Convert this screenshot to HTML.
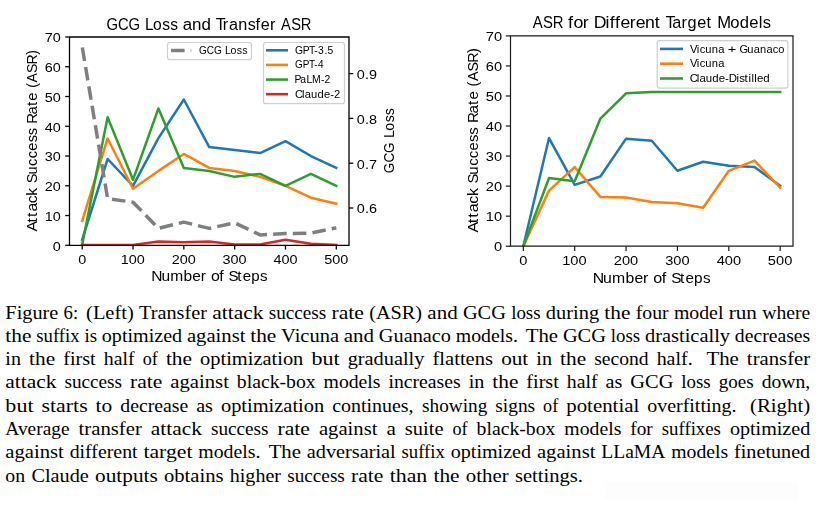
<!DOCTYPE html>
<html><head><meta charset="utf-8"><title>Figure 6</title>
<style>html,body{margin:0;padding:0;background:#fff;width:819px;height:509px;overflow:hidden;position:relative}svg{display:block}.cap{position:absolute;left:0;top:0}.charts{position:absolute;left:0;top:0;width:819px;height:295px;will-change:transform}</style>
</head><body>
<svg class="cap" width="819" height="509" viewBox="0 0 819 509">
<rect width="819" height="509" fill="#fff"/>
<rect x="605" y="482" width="193" height="19" fill="#fdfdfd"/>
<g font-family="Liberation Serif, serif" font-size="18.2" fill="#000" style="font-variant-ligatures:none">
<text x="5.37" y="318.70" textLength="52.99" lengthAdjust="spacingAndGlyphs">Figure</text>
<text x="63.62" y="318.70" textLength="14.60" lengthAdjust="spacingAndGlyphs">6:</text>
<text x="86.07" y="318.70" textLength="47.71" lengthAdjust="spacingAndGlyphs">(Left)</text>
<text x="139.04" y="318.70" textLength="68.00" lengthAdjust="spacingAndGlyphs">Transfer</text>
<text x="212.31" y="318.70" textLength="51.09" lengthAdjust="spacingAndGlyphs">attack</text>
<text x="268.66" y="318.70" textLength="57.62" lengthAdjust="spacingAndGlyphs">success</text>
<text x="331.55" y="318.70" textLength="32.38" lengthAdjust="spacingAndGlyphs">rate</text>
<text x="369.19" y="318.70" textLength="52.93" lengthAdjust="spacingAndGlyphs">(ASR)</text>
<text x="427.38" y="318.70" textLength="30.26" lengthAdjust="spacingAndGlyphs">and</text>
<text x="462.90" y="318.70" textLength="43.02" lengthAdjust="spacingAndGlyphs">GCG</text>
<text x="511.19" y="318.70" textLength="29.39" lengthAdjust="spacingAndGlyphs">loss</text>
<text x="545.85" y="318.70" textLength="53.27" lengthAdjust="spacingAndGlyphs">during</text>
<text x="604.38" y="318.70" textLength="26.07" lengthAdjust="spacingAndGlyphs">the</text>
<text x="635.71" y="318.70" textLength="32.92" lengthAdjust="spacingAndGlyphs">four</text>
<text x="673.90" y="318.70" textLength="49.53" lengthAdjust="spacingAndGlyphs">model</text>
<text x="728.69" y="318.70" textLength="28.23" lengthAdjust="spacingAndGlyphs">run</text>
<text x="762.19" y="318.70" textLength="48.01" lengthAdjust="spacingAndGlyphs">where</text>
<text x="5.37" y="341.96" textLength="26.07" lengthAdjust="spacingAndGlyphs">the</text>
<text x="36.25" y="341.96" textLength="43.38" lengthAdjust="spacingAndGlyphs">suffix</text>
<text x="84.43" y="341.96" textLength="12.61" lengthAdjust="spacingAndGlyphs">is</text>
<text x="101.84" y="341.96" textLength="80.30" lengthAdjust="spacingAndGlyphs">optimized</text>
<text x="186.95" y="341.96" textLength="58.51" lengthAdjust="spacingAndGlyphs">against</text>
<text x="250.26" y="341.96" textLength="26.07" lengthAdjust="spacingAndGlyphs">the</text>
<text x="281.13" y="341.96" textLength="57.89" lengthAdjust="spacingAndGlyphs">Vicuna</text>
<text x="343.82" y="341.96" textLength="30.26" lengthAdjust="spacingAndGlyphs">and</text>
<text x="378.88" y="341.96" textLength="72.10" lengthAdjust="spacingAndGlyphs">Guanaco</text>
<text x="455.78" y="341.96" textLength="62.15" lengthAdjust="spacingAndGlyphs">models.</text>
<text x="525.78" y="341.96" textLength="32.32" lengthAdjust="spacingAndGlyphs">The</text>
<text x="562.91" y="341.96" textLength="43.02" lengthAdjust="spacingAndGlyphs">GCG</text>
<text x="610.73" y="341.96" textLength="29.39" lengthAdjust="spacingAndGlyphs">loss</text>
<text x="644.93" y="341.96" textLength="85.16" lengthAdjust="spacingAndGlyphs">drastically</text>
<text x="734.89" y="341.96" textLength="75.31" lengthAdjust="spacingAndGlyphs">decreases</text>
<text x="5.37" y="365.22" textLength="15.65" lengthAdjust="spacingAndGlyphs">in</text>
<text x="29.11" y="365.22" textLength="26.07" lengthAdjust="spacingAndGlyphs">the</text>
<text x="63.26" y="365.22" textLength="32.49" lengthAdjust="spacingAndGlyphs">first</text>
<text x="103.84" y="365.22" textLength="30.78" lengthAdjust="spacingAndGlyphs">half</text>
<text x="142.70" y="365.22" textLength="15.13" lengthAdjust="spacingAndGlyphs">of</text>
<text x="165.91" y="365.22" textLength="26.07" lengthAdjust="spacingAndGlyphs">the</text>
<text x="200.07" y="365.22" textLength="103.25" lengthAdjust="spacingAndGlyphs">optimization</text>
<text x="311.40" y="365.22" textLength="28.17" lengthAdjust="spacingAndGlyphs">but</text>
<text x="347.66" y="365.22" textLength="76.73" lengthAdjust="spacingAndGlyphs">gradually</text>
<text x="432.48" y="365.22" textLength="60.59" lengthAdjust="spacingAndGlyphs">flattens</text>
<text x="501.15" y="365.22" textLength="27.12" lengthAdjust="spacingAndGlyphs">out</text>
<text x="536.35" y="365.22" textLength="15.65" lengthAdjust="spacingAndGlyphs">in</text>
<text x="560.09" y="365.22" textLength="26.07" lengthAdjust="spacingAndGlyphs">the</text>
<text x="594.25" y="365.22" textLength="54.32" lengthAdjust="spacingAndGlyphs">second</text>
<text x="656.65" y="365.22" textLength="36.00" lengthAdjust="spacingAndGlyphs">half.</text>
<text x="706.48" y="365.22" textLength="32.32" lengthAdjust="spacingAndGlyphs">The</text>
<text x="746.89" y="365.22" textLength="63.31" lengthAdjust="spacingAndGlyphs">transfer</text>
<text x="5.37" y="388.48" textLength="51.09" lengthAdjust="spacingAndGlyphs">attack</text>
<text x="64.44" y="388.48" textLength="57.62" lengthAdjust="spacingAndGlyphs">success</text>
<text x="130.04" y="388.48" textLength="32.38" lengthAdjust="spacingAndGlyphs">rate</text>
<text x="170.39" y="388.48" textLength="58.51" lengthAdjust="spacingAndGlyphs">against</text>
<text x="236.88" y="388.48" textLength="78.74" lengthAdjust="spacingAndGlyphs">black-box</text>
<text x="323.59" y="388.48" textLength="56.93" lengthAdjust="spacingAndGlyphs">models</text>
<text x="388.50" y="388.48" textLength="72.19" lengthAdjust="spacingAndGlyphs">increases</text>
<text x="468.67" y="388.48" textLength="15.65" lengthAdjust="spacingAndGlyphs">in</text>
<text x="492.30" y="388.48" textLength="26.07" lengthAdjust="spacingAndGlyphs">the</text>
<text x="526.34" y="388.48" textLength="32.49" lengthAdjust="spacingAndGlyphs">first</text>
<text x="566.81" y="388.48" textLength="30.78" lengthAdjust="spacingAndGlyphs">half</text>
<text x="605.57" y="388.48" textLength="16.78" lengthAdjust="spacingAndGlyphs">as</text>
<text x="630.33" y="388.48" textLength="43.02" lengthAdjust="spacingAndGlyphs">GCG</text>
<text x="681.33" y="388.48" textLength="29.39" lengthAdjust="spacingAndGlyphs">loss</text>
<text x="718.70" y="388.48" textLength="35.02" lengthAdjust="spacingAndGlyphs">goes</text>
<text x="761.70" y="388.48" textLength="48.50" lengthAdjust="spacingAndGlyphs">down,</text>
<text x="5.37" y="411.74" textLength="28.17" lengthAdjust="spacingAndGlyphs">but</text>
<text x="41.52" y="411.74" textLength="46.14" lengthAdjust="spacingAndGlyphs">starts</text>
<text x="95.64" y="411.74" textLength="16.69" lengthAdjust="spacingAndGlyphs">to</text>
<text x="120.30" y="411.74" textLength="67.91" lengthAdjust="spacingAndGlyphs">decrease</text>
<text x="196.19" y="411.74" textLength="16.78" lengthAdjust="spacingAndGlyphs">as</text>
<text x="220.95" y="411.74" textLength="103.25" lengthAdjust="spacingAndGlyphs">optimization</text>
<text x="332.19" y="411.74" textLength="81.44" lengthAdjust="spacingAndGlyphs">continues,</text>
<text x="422.04" y="411.74" textLength="65.28" lengthAdjust="spacingAndGlyphs">showing</text>
<text x="495.30" y="411.74" textLength="39.83" lengthAdjust="spacingAndGlyphs">signs</text>
<text x="543.11" y="411.74" textLength="15.13" lengthAdjust="spacingAndGlyphs">of</text>
<text x="566.22" y="411.74" textLength="73.02" lengthAdjust="spacingAndGlyphs">potential</text>
<text x="647.21" y="411.74" textLength="89.23" lengthAdjust="spacingAndGlyphs">overfitting.</text>
<text x="749.97" y="411.74" textLength="60.23" lengthAdjust="spacingAndGlyphs">(Right)</text>
<text x="5.37" y="435.00" textLength="64.17" lengthAdjust="spacingAndGlyphs">Average</text>
<text x="78.54" y="435.00" textLength="63.31" lengthAdjust="spacingAndGlyphs">transfer</text>
<text x="150.85" y="435.00" textLength="51.09" lengthAdjust="spacingAndGlyphs">attack</text>
<text x="210.94" y="435.00" textLength="57.62" lengthAdjust="spacingAndGlyphs">success</text>
<text x="277.57" y="435.00" textLength="32.38" lengthAdjust="spacingAndGlyphs">rate</text>
<text x="318.94" y="435.00" textLength="58.51" lengthAdjust="spacingAndGlyphs">against</text>
<text x="386.45" y="435.00" textLength="9.38" lengthAdjust="spacingAndGlyphs">a</text>
<text x="404.83" y="435.00" textLength="38.68" lengthAdjust="spacingAndGlyphs">suite</text>
<text x="452.52" y="435.00" textLength="15.13" lengthAdjust="spacingAndGlyphs">of</text>
<text x="476.64" y="435.00" textLength="78.74" lengthAdjust="spacingAndGlyphs">black-box</text>
<text x="564.38" y="435.00" textLength="56.93" lengthAdjust="spacingAndGlyphs">models</text>
<text x="630.31" y="435.00" textLength="22.49" lengthAdjust="spacingAndGlyphs">for</text>
<text x="661.80" y="435.00" textLength="59.11" lengthAdjust="spacingAndGlyphs">suffixes</text>
<text x="729.90" y="435.00" textLength="80.30" lengthAdjust="spacingAndGlyphs">optimized</text>
<text x="5.37" y="458.26" textLength="58.51" lengthAdjust="spacingAndGlyphs">against</text>
<text x="69.73" y="458.26" textLength="67.83" lengthAdjust="spacingAndGlyphs">different</text>
<text x="143.41" y="458.26" textLength="49.06" lengthAdjust="spacingAndGlyphs">target</text>
<text x="198.32" y="458.26" textLength="62.15" lengthAdjust="spacingAndGlyphs">models.</text>
<text x="268.67" y="458.26" textLength="32.32" lengthAdjust="spacingAndGlyphs">The</text>
<text x="306.85" y="458.26" textLength="88.86" lengthAdjust="spacingAndGlyphs">adversarial</text>
<text x="401.55" y="458.26" textLength="43.38" lengthAdjust="spacingAndGlyphs">suffix</text>
<text x="450.78" y="458.26" textLength="80.30" lengthAdjust="spacingAndGlyphs">optimized</text>
<text x="536.93" y="458.26" textLength="58.51" lengthAdjust="spacingAndGlyphs">against</text>
<text x="601.28" y="458.26" textLength="64.14" lengthAdjust="spacingAndGlyphs">LLaMA</text>
<text x="671.27" y="458.26" textLength="56.93" lengthAdjust="spacingAndGlyphs">models</text>
<text x="734.05" y="458.26" textLength="76.15" lengthAdjust="spacingAndGlyphs">finetuned</text>
<text x="5.37" y="481.52" textLength="19.82" lengthAdjust="spacingAndGlyphs">on</text>
<text x="31.44" y="481.52" textLength="57.36" lengthAdjust="spacingAndGlyphs">Claude</text>
<text x="95.05" y="481.52" textLength="62.69" lengthAdjust="spacingAndGlyphs">outputs</text>
<text x="164.00" y="481.52" textLength="59.56" lengthAdjust="spacingAndGlyphs">obtains</text>
<text x="229.80" y="481.52" textLength="51.17" lengthAdjust="spacingAndGlyphs">higher</text>
<text x="287.22" y="481.52" textLength="57.62" lengthAdjust="spacingAndGlyphs">success</text>
<text x="351.09" y="481.52" textLength="32.38" lengthAdjust="spacingAndGlyphs">rate</text>
<text x="389.72" y="481.52" textLength="37.56" lengthAdjust="spacingAndGlyphs">than</text>
<text x="433.53" y="481.52" textLength="26.07" lengthAdjust="spacingAndGlyphs">the</text>
<text x="465.85" y="481.52" textLength="42.81" lengthAdjust="spacingAndGlyphs">other</text>
<text x="514.92" y="481.52" textLength="67.98" lengthAdjust="spacingAndGlyphs">settings.</text>
</g>
</svg>
<div class="charts"><svg width="819" height="295" viewBox="0 0 819 295">
<g font-family="Liberation Sans, sans-serif" fill="#000">
<defs><clipPath id="cl"><rect x="69.5" y="37.0" width="279.5" height="208.3"/></clipPath><clipPath id="cr"><rect x="510.5" y="35.9" width="282.5" height="210.29999999999998"/></clipPath></defs>
<g clip-path="url(#cl)">
<polyline points="82.20,239.65 107.61,159.00 133.02,185.79 158.43,138.17 183.84,99.49 209.25,147.10 234.66,150.08 260.07,153.05 285.48,141.15 310.89,156.03 336.30,167.93" fill="none" stroke="#1f77b4" stroke-width="2.5" stroke-linejoin="round" stroke-linecap="square" />
<polyline points="82.20,220.90 107.61,138.47 133.02,188.76 158.43,170.91 183.84,153.95 209.25,167.93 234.66,170.91 260.07,176.86 285.48,185.79 310.89,197.69 336.30,203.64" fill="none" stroke="#ff7f0e" stroke-width="2.5" stroke-linejoin="round" stroke-linecap="square" />
<polyline points="82.20,244.41 107.61,117.34 133.02,179.83 158.43,108.42 183.84,167.93 209.25,170.91 234.66,176.86 260.07,173.88 285.48,185.79 310.89,173.88 336.30,185.79" fill="none" stroke="#2ca02c" stroke-width="2.5" stroke-linejoin="round" stroke-linecap="square" />
<polyline points="82.20,245.00 107.61,245.00 133.02,245.00 158.43,241.43 183.84,242.32 209.25,241.43 234.66,244.41 260.07,244.41 285.48,239.65 310.89,243.81 336.30,245.00" fill="none" stroke="#d62728" stroke-width="2.5" stroke-linejoin="round" stroke-linecap="square" />
</g>
<path d="M69.50,37.00H349.00M69.50,245.30H349.00M69.50,37.00V245.30M349.00,37.00V245.30" fill="none" stroke="#000" stroke-width="1.3" stroke-linecap="square"/>
<g clip-path="url(#cl)">
<polyline points="82.20,46.72 107.61,198.59 133.02,202.18 158.43,228.38 183.84,222.11 209.25,228.38 234.66,222.78 260.07,234.88 285.48,233.54 310.89,233.09 336.30,227.71" fill="none" stroke="#7f7f7f" stroke-width="3.5" stroke-linejoin="round" stroke-linecap="butt" stroke-dasharray="13.6 6.1" stroke-dashoffset="-0.8"/>
</g>
<line x1="65.2" y1="245.30" x2="69.5" y2="245.30" stroke="#000" stroke-width="1.3"/>
<text transform="translate(52.82,250.60) scale(1.0895,1)" font-size="13.23" x="0.00" y="0" >0</text>
<line x1="65.2" y1="215.54" x2="69.5" y2="215.54" stroke="#000" stroke-width="1.3"/>
<text transform="translate(44.80,220.84) scale(1.0895,1)" font-size="13.23" x="0.00 7.36" y="0" >10</text>
<line x1="65.2" y1="185.79" x2="69.5" y2="185.79" stroke="#000" stroke-width="1.3"/>
<text transform="translate(44.80,191.09) scale(1.0895,1)" font-size="13.23" x="0.00 7.36" y="0" >20</text>
<line x1="65.2" y1="156.03" x2="69.5" y2="156.03" stroke="#000" stroke-width="1.3"/>
<text transform="translate(44.80,161.33) scale(1.0895,1)" font-size="13.23" x="0.00 7.36" y="0" >30</text>
<line x1="65.2" y1="126.27" x2="69.5" y2="126.27" stroke="#000" stroke-width="1.3"/>
<text transform="translate(44.80,131.57) scale(1.0895,1)" font-size="13.23" x="0.00 7.36" y="0" >40</text>
<line x1="65.2" y1="96.51" x2="69.5" y2="96.51" stroke="#000" stroke-width="1.3"/>
<text transform="translate(44.80,101.81) scale(1.0895,1)" font-size="13.23" x="0.00 7.36" y="0" >50</text>
<line x1="65.2" y1="66.76" x2="69.5" y2="66.76" stroke="#000" stroke-width="1.3"/>
<text transform="translate(44.80,72.06) scale(1.0895,1)" font-size="13.23" x="0.00 7.36" y="0" >60</text>
<line x1="65.2" y1="37.00" x2="69.5" y2="37.00" stroke="#000" stroke-width="1.3"/>
<text transform="translate(44.80,42.30) scale(1.0895,1)" font-size="13.23" x="0.00 7.36" y="0" >70</text>
<line x1="82.20" y1="245.3" x2="82.20" y2="249.60000000000002" stroke="#000" stroke-width="1.3"/>
<text transform="translate(78.20,263.70) scale(1.0895,1)" font-size="13.23" x="0.00" y="0" >0</text>
<line x1="133.02" y1="245.3" x2="133.02" y2="249.60000000000002" stroke="#000" stroke-width="1.3"/>
<text transform="translate(120.72,263.70) scale(1.0895,1)" font-size="13.23" x="0.00 7.36 14.72" y="0" >100</text>
<line x1="183.84" y1="245.3" x2="183.84" y2="249.60000000000002" stroke="#000" stroke-width="1.3"/>
<text transform="translate(171.77,263.70) scale(1.0895,1)" font-size="13.23" x="0.00 7.36 14.72" y="0" >200</text>
<line x1="234.66" y1="245.3" x2="234.66" y2="249.60000000000002" stroke="#000" stroke-width="1.3"/>
<text transform="translate(222.57,263.70) scale(1.0895,1)" font-size="13.23" x="0.00 7.36 14.72" y="0" >300</text>
<line x1="285.48" y1="245.3" x2="285.48" y2="249.60000000000002" stroke="#000" stroke-width="1.3"/>
<text transform="translate(273.56,263.70) scale(1.0895,1)" font-size="13.23" x="0.00 7.36 14.72" y="0" >400</text>
<line x1="336.30" y1="245.3" x2="336.30" y2="249.60000000000002" stroke="#000" stroke-width="1.3"/>
<text transform="translate(324.20,263.70) scale(1.0895,1)" font-size="13.23" x="0.00 7.36 14.72" y="0" >500</text>
<line x1="349.0" y1="208.00" x2="353.3" y2="208.00" stroke="#000" stroke-width="1.3"/>
<text transform="translate(356.87,213.30) scale(1.0895,1)" font-size="13.23" x="0.00 7.36 11.03" y="0" >0.6</text>
<line x1="349.0" y1="163.20" x2="353.3" y2="163.20" stroke="#000" stroke-width="1.3"/>
<text transform="translate(356.87,168.50) scale(1.0895,1)" font-size="13.23" x="0.00 7.36 11.03" y="0" >0.7</text>
<line x1="349.0" y1="118.40" x2="353.3" y2="118.40" stroke="#000" stroke-width="1.3"/>
<text transform="translate(356.87,123.70) scale(1.0895,1)" font-size="13.23" x="0.00 7.36 11.03" y="0" >0.8</text>
<line x1="349.0" y1="73.60" x2="353.3" y2="73.60" stroke="#000" stroke-width="1.3"/>
<text transform="translate(356.87,78.90) scale(1.0895,1)" font-size="13.23" x="0.00 7.36 11.03" y="0" >0.9</text>
<text transform="translate(106.46,29.50) scale(0.9399,1)" font-size="15.78" x="0.00 12.39 23.56" y="0" >GCG</text><text transform="translate(145.02,29.50) scale(0.9889,1)" font-size="15.78" x="0.00 8.20 17.50 25.42" y="0" >Loss</text><text transform="translate(182.77,29.50) scale(1.0739,1)" font-size="15.78" x="0.00 8.58 17.45" y="0" >and</text><text transform="translate(215.82,29.50) scale(1.0286,1)" font-size="15.78" x="0.00 6.78 12.79 21.74 31.00 38.61 43.76 52.75" y="0" >Transfer</text><text transform="translate(281.03,29.50) scale(0.9327,1)" font-size="15.78" x="0.00 11.02 21.25" y="0" >ASR</text>
<text transform="translate(151.15,281.10) scale(1.0757,1)" font-size="14.47" x="0.00 9.58 17.70 30.18 38.31 46.19" y="0" >Number</text><text transform="translate(210.88,281.10) scale(1.1007,1)" font-size="14.47" x="0.00 7.66" y="0" >of</text><text transform="translate(228.55,281.10) scale(1.0420,1)" font-size="14.47" x="0.00 8.39 13.58 21.72 30.11" y="0" >Steps</text>
<g transform="translate(37.10,231.40) rotate(-90)"><text transform="translate(-0.11,0) scale(1.0941,1)" font-size="14.42" x="0.00 8.36 13.28 18.20 25.89 32.79" y="0" >Attack</text><text transform="translate(48.09,0) scale(1.0144,1)" font-size="14.42" x="0.00 8.59 17.17 24.61 32.05 40.38 47.43" y="0" >Success</text><text transform="translate(107.72,0) scale(1.0338,1)" font-size="14.42" x="0.00 8.94 17.07 22.28" y="0" >Rate</text><text transform="translate(143.57,0) scale(0.9775,1)" font-size="14.42" x="0.00 5.48 15.09 24.00 33.76" y="0" >(ASR)</text></g>
<g transform="translate(393.60,172.40) rotate(-90)"><text transform="translate(-0.77,0) scale(0.9399,1)" font-size="14.37" x="0.00 11.29 21.46" y="0" >GCG</text><text transform="translate(34.36,0) scale(0.9889,1)" font-size="14.37" x="0.00 7.47 15.94 23.15" y="0" >Loss</text></g>
<rect x="167.5" y="42.5" width="84" height="17.2" rx="2.5" fill="#fff" fill-opacity="0.8" stroke="#cfcfcf" stroke-width="1.2"/>
<line x1="171" y1="50.6" x2="191.2" y2="50.6" stroke="#7f7f7f" stroke-width="3.5" stroke-dasharray="13.6 6.1"/>
<text transform="translate(198.93,54.10) scale(0.9399,1)" font-size="10.71" x="0.00 8.41 15.99" y="0" >GCG</text><text transform="translate(225.10,54.10) scale(0.9889,1)" font-size="10.71" x="0.00 5.57 11.88 17.25" y="0" >Loss</text>
<rect x="263.5" y="42.5" width="81" height="61.2" rx="2.5" fill="#fff" fill-opacity="0.8" stroke="#cfcfcf" stroke-width="1.2"/>
<line x1="266" y1="50.30" x2="288" y2="50.30" stroke="#1f77b4" stroke-width="2.6"/>
<text transform="translate(294.93,53.85) scale(0.9699,1)" font-size="10.69" x="0.00 8.13 14.46 19.91 23.70 30.38 33.71" y="0" >GPT-3.5</text>
<line x1="266" y1="64.93" x2="288" y2="64.93" stroke="#ff7f0e" stroke-width="2.6"/>
<text transform="translate(294.93,68.48) scale(0.9360,1)" font-size="10.69" x="0.00 8.43 14.99 20.63 24.56" y="0" >GPT-4</text>
<line x1="266" y1="79.56" x2="288" y2="79.56" stroke="#2ca02c" stroke-width="2.6"/>
<text transform="translate(294.50,83.11) scale(0.9759,1)" font-size="10.69" x="0.00 5.82 12.21 18.03 27.03 30.79" y="0" >PaLM-2</text>
<line x1="266" y1="94.19" x2="288" y2="94.19" stroke="#d62728" stroke-width="2.6"/>
<text transform="translate(294.93,97.74) scale(1.0490,1)" font-size="10.69" x="0.00 6.78 9.47 15.42 21.57 27.73 33.70 37.20" y="0" >Claude-2</text>
<g clip-path="url(#cr)">
<polyline points="523.34,246.20 549.02,138.05 574.70,184.91 600.39,176.50 626.07,138.65 651.75,140.75 677.43,170.79 703.11,161.78 728.80,165.69 754.48,166.89 780.16,185.81" fill="none" stroke="#1f77b4" stroke-width="2.5" stroke-linejoin="round" stroke-linecap="square" />
<polyline points="523.34,246.20 549.02,190.62 574.70,167.19 600.39,196.93 626.07,197.53 651.75,202.04 677.43,203.24 703.11,207.75 728.80,170.79 754.48,160.58 780.16,187.62" fill="none" stroke="#ff7f0e" stroke-width="2.5" stroke-linejoin="round" stroke-linecap="square" />
<polyline points="523.34,246.20 549.02,178.00 574.70,181.31 600.39,118.52 626.07,93.28 651.75,92.08 677.43,92.08 703.11,92.08 728.80,92.08 754.48,92.08 780.16,92.08" fill="none" stroke="#2ca02c" stroke-width="2.5" stroke-linejoin="round" stroke-linecap="square" />
</g>
<path d="M510.50,35.90H793.00M510.50,246.20H793.00M510.50,35.90V246.20M793.00,35.90V246.20" fill="none" stroke="#1a1a1a" stroke-width="1.2" stroke-linecap="square"/>
<line x1="505.8" y1="246.20" x2="510.5" y2="246.20" stroke="#1a1a1a" stroke-width="1.2"/>
<text transform="translate(493.91,251.20) scale(1.0895,1)" font-size="13.44" x="0.00" y="0" >0</text>
<line x1="505.8" y1="216.16" x2="510.5" y2="216.16" stroke="#1a1a1a" stroke-width="1.2"/>
<text transform="translate(485.76,221.16) scale(1.0895,1)" font-size="13.44" x="0.00 7.47" y="0" >10</text>
<line x1="505.8" y1="186.11" x2="510.5" y2="186.11" stroke="#1a1a1a" stroke-width="1.2"/>
<text transform="translate(485.76,191.11) scale(1.0895,1)" font-size="13.44" x="0.00 7.47" y="0" >20</text>
<line x1="505.8" y1="156.07" x2="510.5" y2="156.07" stroke="#1a1a1a" stroke-width="1.2"/>
<text transform="translate(485.76,161.07) scale(1.0895,1)" font-size="13.44" x="0.00 7.47" y="0" >30</text>
<line x1="505.8" y1="126.03" x2="510.5" y2="126.03" stroke="#1a1a1a" stroke-width="1.2"/>
<text transform="translate(485.76,131.03) scale(1.0895,1)" font-size="13.44" x="0.00 7.47" y="0" >40</text>
<line x1="505.8" y1="95.99" x2="510.5" y2="95.99" stroke="#1a1a1a" stroke-width="1.2"/>
<text transform="translate(485.76,100.99) scale(1.0895,1)" font-size="13.44" x="0.00 7.47" y="0" >50</text>
<line x1="505.8" y1="65.94" x2="510.5" y2="65.94" stroke="#1a1a1a" stroke-width="1.2"/>
<text transform="translate(485.76,70.94) scale(1.0895,1)" font-size="13.44" x="0.00 7.47" y="0" >60</text>
<line x1="505.8" y1="35.90" x2="510.5" y2="35.90" stroke="#1a1a1a" stroke-width="1.2"/>
<text transform="translate(485.76,40.90) scale(1.0895,1)" font-size="13.44" x="0.00 7.47" y="0" >70</text>
<line x1="523.34" y1="246.2" x2="523.34" y2="250.89999999999998" stroke="#1a1a1a" stroke-width="1.2"/>
<text transform="translate(519.27,264.50) scale(1.0895,1)" font-size="13.44" x="0.00" y="0" >0</text>
<line x1="574.70" y1="246.2" x2="574.70" y2="250.89999999999998" stroke="#1a1a1a" stroke-width="1.2"/>
<text transform="translate(562.21,264.50) scale(1.0895,1)" font-size="13.44" x="0.00 7.47 14.95" y="0" >100</text>
<line x1="626.07" y1="246.2" x2="626.07" y2="250.89999999999998" stroke="#1a1a1a" stroke-width="1.2"/>
<text transform="translate(613.81,264.50) scale(1.0895,1)" font-size="13.44" x="0.00 7.47 14.95" y="0" >200</text>
<line x1="677.43" y1="246.2" x2="677.43" y2="250.89999999999998" stroke="#1a1a1a" stroke-width="1.2"/>
<text transform="translate(665.15,264.50) scale(1.0895,1)" font-size="13.44" x="0.00 7.47 14.95" y="0" >300</text>
<line x1="728.80" y1="246.2" x2="728.80" y2="250.89999999999998" stroke="#1a1a1a" stroke-width="1.2"/>
<text transform="translate(716.69,264.50) scale(1.0895,1)" font-size="13.44" x="0.00 7.47 14.95" y="0" >400</text>
<line x1="780.16" y1="246.2" x2="780.16" y2="250.89999999999998" stroke="#1a1a1a" stroke-width="1.2"/>
<text transform="translate(767.87,264.50) scale(1.0895,1)" font-size="13.44" x="0.00 7.47 14.95" y="0" >500</text>
<text transform="translate(532.68,28.10) scale(0.9327,1)" font-size="15.95" x="0.00 11.14 21.48" y="0" >ASR</text><text transform="translate(568.10,28.10) scale(1.1221,1)" font-size="15.95" x="0.00 4.77 13.05" y="0" >for</text><text transform="translate(593.81,28.10) scale(1.1082,1)" font-size="15.95" x="0.00 10.55 14.36 19.19 24.01 32.45 37.78 46.22 54.90" y="0" >Different</text><text transform="translate(665.44,28.10) scale(1.0195,1)" font-size="15.95" x="0.00 6.64 15.77 21.63 31.09 40.25" y="0" >Target</text><text transform="translate(717.26,28.10) scale(1.0410,1)" font-size="15.95" x="0.00 12.59 21.52 30.78 39.76 43.81" y="0" >Models</text>
<text transform="translate(592.63,282.50) scale(1.0757,1)" font-size="14.68" x="0.00 9.72 17.96 30.62 38.87 46.86" y="0" >Number</text><text transform="translate(653.23,282.50) scale(1.1007,1)" font-size="14.68" x="0.00 7.77" y="0" >of</text><text transform="translate(671.15,282.50) scale(1.0420,1)" font-size="14.68" x="0.00 8.52 13.78 22.03 30.55" y="0" >Steps</text>
<g transform="translate(477.80,232.40) rotate(-90)"><text transform="translate(-0.11,0) scale(1.0941,1)" font-size="14.65" x="0.00 8.50 13.50 18.50 26.31 33.32" y="0" >Attack</text><text transform="translate(48.86,0) scale(1.0144,1)" font-size="14.65" x="0.00 8.73 17.45 25.01 32.57 41.03 48.19" y="0" >Success</text><text transform="translate(109.45,0) scale(1.0338,1)" font-size="14.65" x="0.00 9.08 17.35 22.64" y="0" >Rate</text><text transform="translate(145.87,0) scale(0.9775,1)" font-size="14.65" x="0.00 5.57 15.33 24.39 34.31" y="0" >(ASR)</text></g>
<rect x="657.2" y="40.7" width="130.7" height="47.5" rx="2.5" fill="#fff" fill-opacity="0.8" stroke="#cfcfcf" stroke-width="1.2"/>
<line x1="660" y1="48.90" x2="683" y2="48.90" stroke="#1f77b4" stroke-width="2.6"/>
<text transform="translate(690.12,52.60) scale(1.0497,1)" font-size="10.69" x="0.00 6.42 9.12 14.45 20.59 26.74" y="0" >Vicuna</text><text transform="translate(727.66,52.60) scale(1.3665,1)" font-size="10.69" x="0.00" y="0" >+</text><text transform="translate(739.43,52.60) scale(1.0395,1)" font-size="10.69" x="0.00 7.59 13.80 19.80 26.00 32.01 37.39" y="0" >Guanaco</text>
<line x1="660" y1="63.70" x2="683" y2="63.70" stroke="#ff7f0e" stroke-width="2.6"/>
<text transform="translate(690.12,67.40) scale(1.0497,1)" font-size="10.69" x="0.00 6.42 9.12 14.45 20.59 26.74" y="0" >Vicuna</text>
<line x1="660" y1="78.50" x2="683" y2="78.50" stroke="#2ca02c" stroke-width="2.6"/>
<text transform="translate(689.63,82.20) scale(1.0714,1)" font-size="10.69" x="0.00 6.63 9.27 15.10 21.12 27.15 33.00 36.43 43.74 46.38 51.33 55.06 57.70 60.34 62.98 68.82" y="0" >Claude-Distilled</text>
</g>
</svg></div>
</body></html>
